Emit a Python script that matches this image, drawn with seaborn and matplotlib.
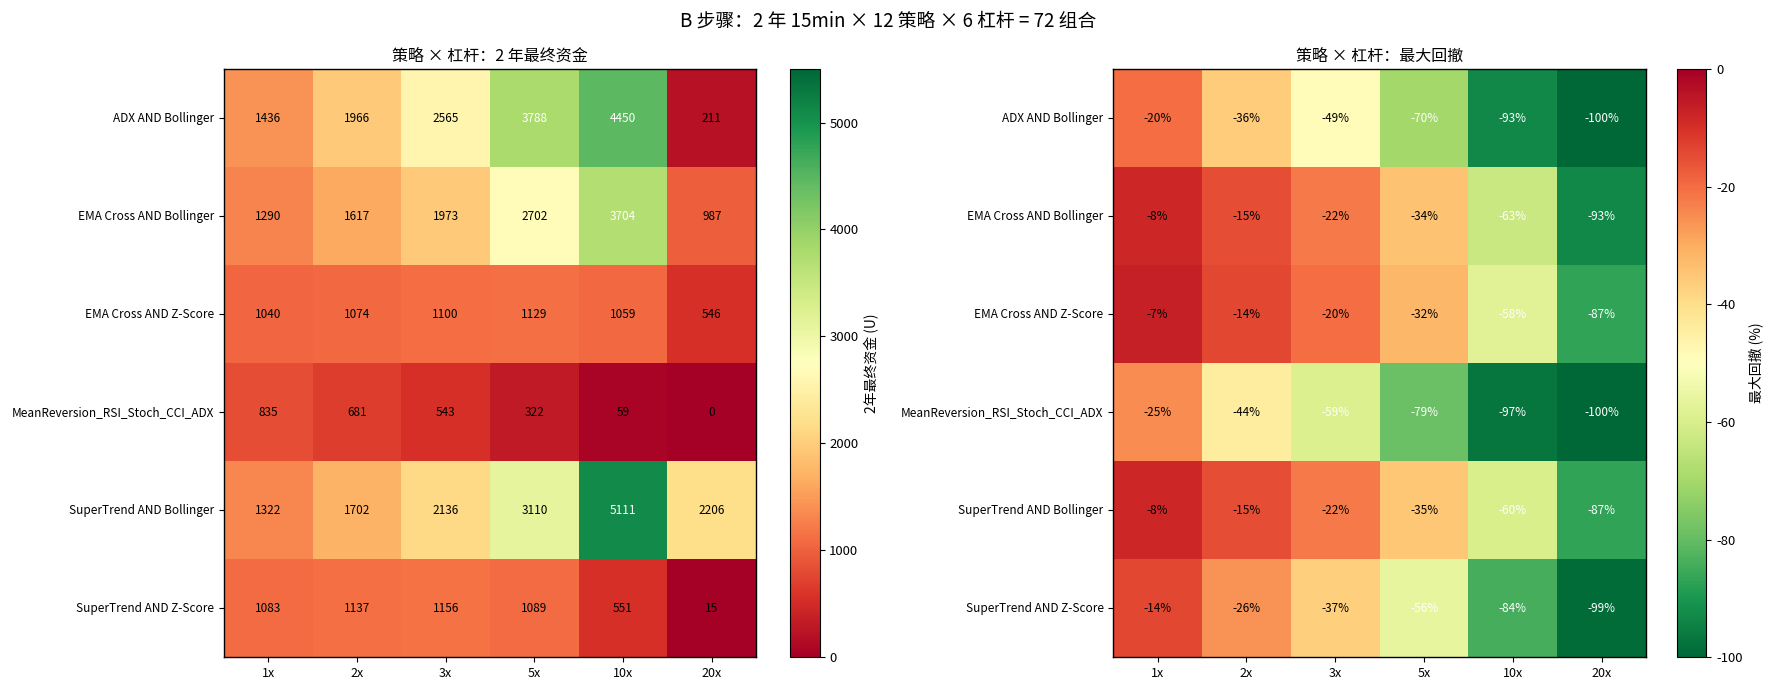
import matplotlib
matplotlib.use("Agg")
import matplotlib.pyplot as plt
import numpy as np
import pandas as pd
import seaborn as sns

strategies = [
    "ADX AND Bollinger",
    "EMA Cross AND Bollinger",
    "EMA Cross AND Z-Score",
    "MeanReversion_RSI_Stoch_CCI_ADX",
    "SuperTrend AND Bollinger",
    "SuperTrend AND Z-Score",
]
leverages = ["1x", "2x", "3x", "5x", "10x", "20x"]

final_capital = [
    [1436, 1966, 2565, 3788, 4450, 211],
    [1290, 1617, 1973, 2702, 3704, 987],
    [1040, 1074, 1100, 1129, 1059, 546],
    [835, 681, 543, 322, 59, 0],
    [1322, 1702, 2136, 3110, 5111, 2206],
    [1083, 1137, 1156, 1089, 551, 15],
]
max_drawdown = [
    [-20, -36, -49, -70, -93, -100],
    [-8, -15, -22, -34, -63, -93],
    [-7, -14, -20, -32, -58, -87],
    [-25, -44, -59, -79, -97, -100],
    [-8, -15, -22, -35, -60, -87],
    [-14, -26, -37, -56, -84, -99],
]


def main():
    plt.rcParams["font.family"] = ["Noto Sans CJK SC", "DejaVu Sans"]
    plt.rcParams["axes.unicode_minus"] = False

    cap = pd.DataFrame(final_capital, index=strategies, columns=leverages)
    dd = pd.DataFrame(max_drawdown, index=strategies, columns=leverages)

    fig = plt.figure(figsize=(17.77, 6.91), dpi=100)
    ax1 = fig.add_axes([0.126, 0.049, 0.2995, 0.851])
    cax1 = fig.add_axes([0.4446, 0.049, 0.0166, 0.851])
    ax2 = fig.add_axes([0.6265, 0.049, 0.2998, 0.851])
    cax2 = fig.add_axes([0.9437, 0.049, 0.0166, 0.851])

    # left: final capital
    sns.heatmap(
        cap, ax=ax1, cbar_ax=cax1, cmap="RdYlGn", vmin=0, vmax=5500,
        annot=cap.astype(str).values, fmt="", annot_kws={"fontsize": 8.5},
        cbar_kws={"label": "2年最终资金 (U)"},
    )
    for t, v in zip(ax1.texts, cap.values.flatten()):
        t.set_color("white" if v > 3300 else "black")

    # right: max drawdown
    dd_labels = dd.map(lambda v: f"{v}%").values
    sns.heatmap(
        dd, ax=ax2, cbar_ax=cax2, cmap="RdYlGn_r", vmin=-100, vmax=0,
        annot=dd_labels, fmt="", annot_kws={"fontsize": 8.5},
        cbar_kws={"label": "最大回撤 (%)"},
    )
    for t, v in zip(ax2.texts, dd.values.flatten()):
        t.set_color("white" if v < -50 else "black")

    for ax, title in [(ax1, "策略 × 杠杆：2 年最终资金"), (ax2, "策略 × 杠杆：最大回撤")]:
        ax.set_title(title, fontsize=11.5)
        ax.set_xlabel("")
        ax.set_ylabel("")
        ax.tick_params(axis="y", labelsize=8.5)
        ax.tick_params(axis="x", labelsize=9)
        ax.set_yticklabels(ax.get_yticklabels(), rotation=0)
        ax.set_xticklabels(ax.get_xticklabels(), rotation=0)
        for s in ax.spines.values():
            s.set_visible(True)
            s.set_linewidth(1.0)
        cb = ax.collections[0].colorbar
        cb.outline.set_linewidth(0.8)
        cb.ax.tick_params(labelsize=9.5)
        cb.ax.yaxis.label.set_size(10)

    cax2.set_yticks([0, -20, -40, -60, -80, -100])

    fig.suptitle("B 步骤：2 年 15min × 12 策略 × 6 杠杆 = 72 组合", fontsize=13.5, y=0.985)
    fig.savefig("out.png", dpi=100)


if __name__ == "__main__":
    main()
